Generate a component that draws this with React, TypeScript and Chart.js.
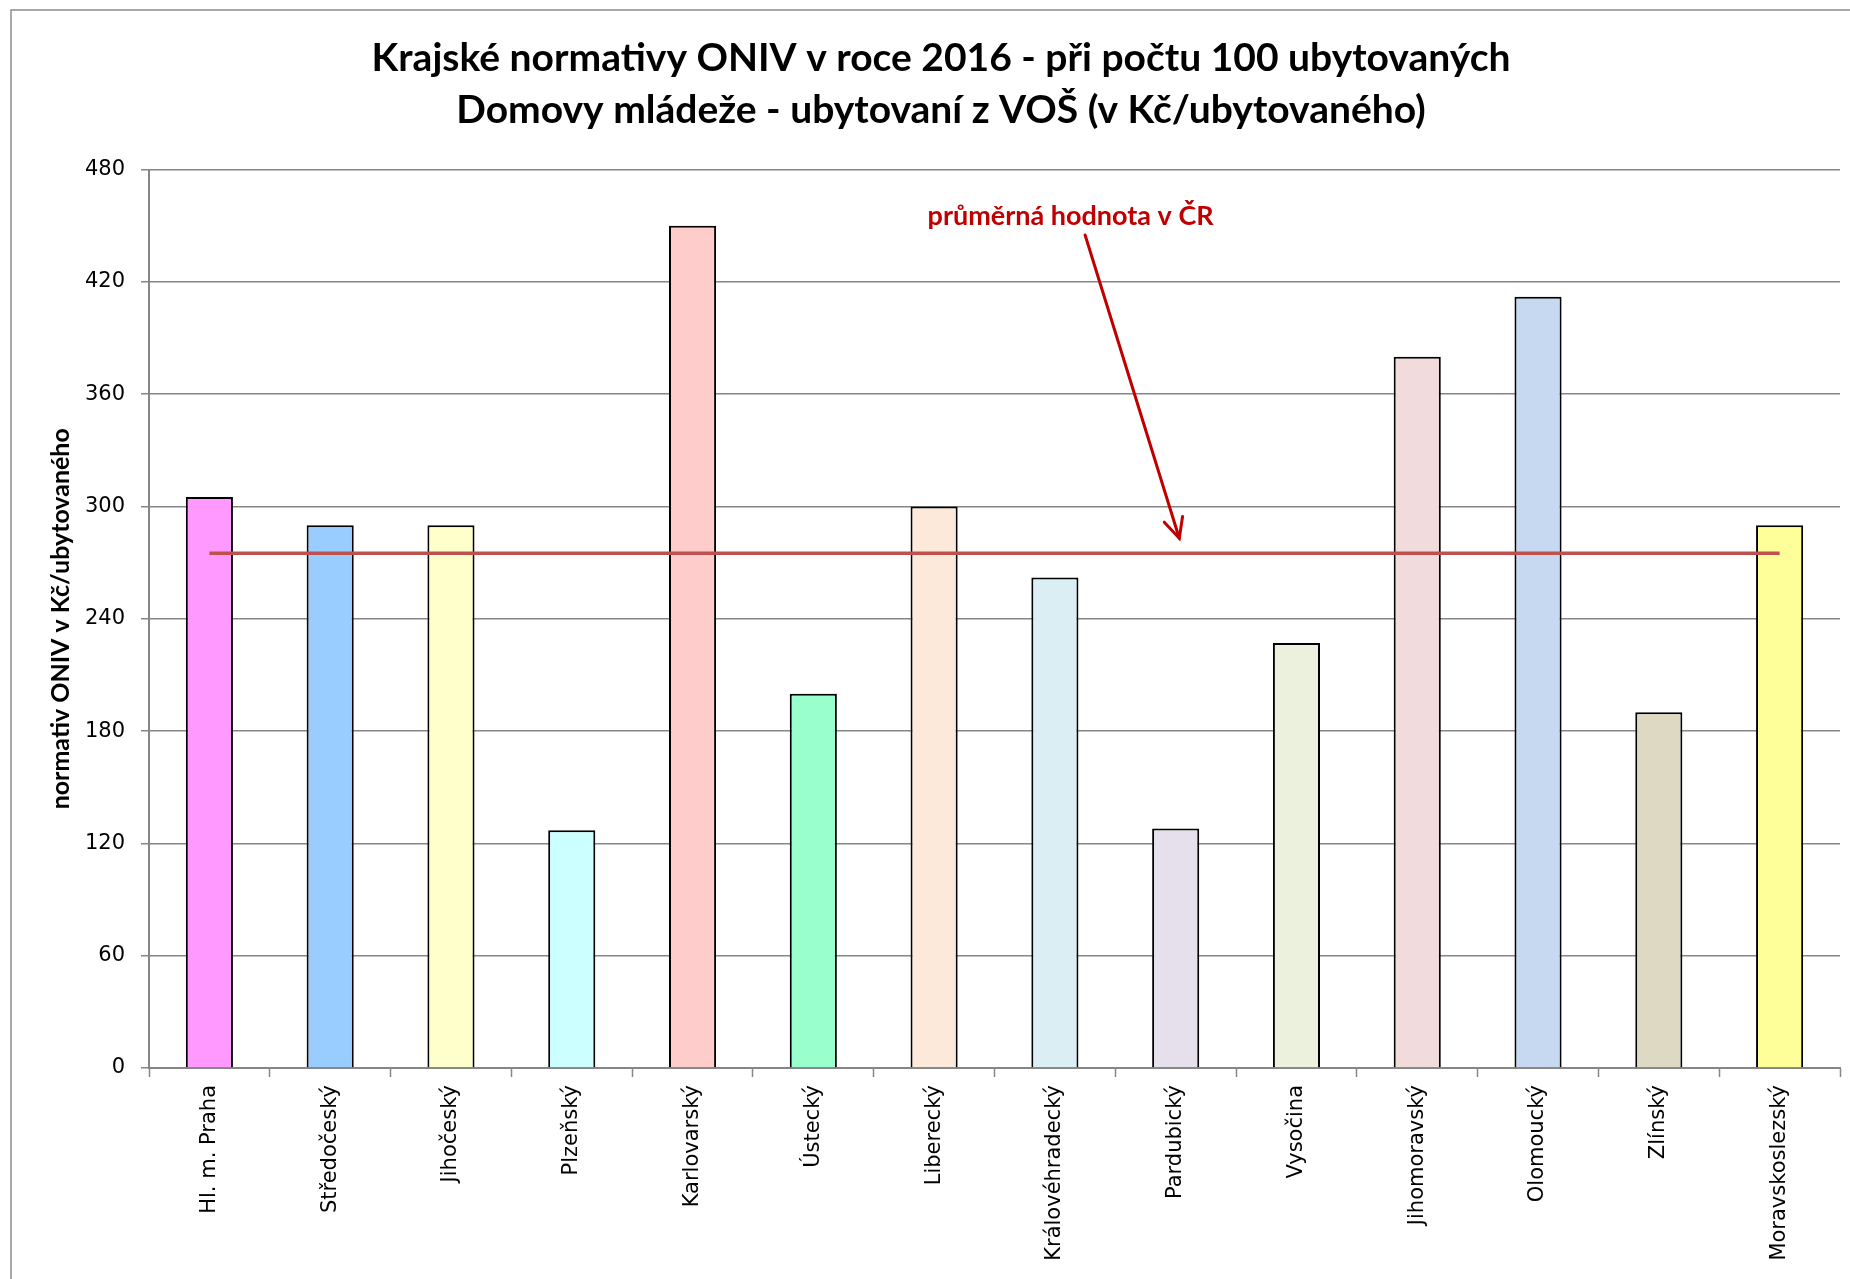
import React, { useEffect, useRef } from "react";
import { Chart, registerables } from "chart.js";

Chart.register(...registerables);

const categories = [
  "Hl. m. Praha",
  "Středočeský",
  "Jihočeský",
  "Plzeňský",
  "Karlovarský",
  "Ústecký",
  "Liberecký",
  "Královéhradecký",
  "Pardubický",
  "Vysočina",
  "Jihomoravský",
  "Olomoucký",
  "Zlínský",
  "Moravskoslezský",
];

const values = [305, 290, 290, 127, 450, 200, 300, 262, 128, 227, 380, 412, 190, 290];

const averageValues = [275, 275, 275, 275, 275, 275, 275, 275, 275, 275, 275, 275, 275, 275];

const barColors = [
  "#FF99FF",
  "#99CCFF",
  "#FFFFCC",
  "#CCFFFF",
  "#FFCCCC",
  "#99FFCC",
  "#FDE9D9",
  "#DBEEF3",
  "#E5E0EC",
  "#EBF1DD",
  "#F2DCDB",
  "#C6D9F0",
  "#DDD9C3",
  "#FFFF99",
];

const yMin = 0;
const yMax = 480;
const yStep = 60;

const titleLines = [
  "Krajské normativy ONIV v roce 2016 - při počtu 100 ubytovaných",
  "Domovy mládeže - ubytovaní z VOŠ (v Kč/ubytovaného)",
];
const yAxisTitle = "normativ ONIV v Kč/ubytovaného";
const annotationText = "průměrná hodnota v ČR";

// annotation anchors in data coordinates (category index, value)
const annotationTextPos = [7.13, 455];
const arrowStart = [7.25, 445];
const arrowEnd = [8.03, 283];

const W = 1850;
const H = 1279;

export default function App() {
  const ref = useRef<HTMLCanvasElement | null>(null);

  useEffect(() => {
    const canvas = ref.current;
    if (!canvas) return;

    const framePlugin = {
      id: "frame",
      beforeDraw(chart: any) {
        const ctx = chart.ctx;
        ctx.save();
        ctx.fillStyle = "#ffffff";
        ctx.fillRect(0, 0, chart.width, chart.height);
        ctx.strokeStyle = "#8c8c8c";
        ctx.lineWidth = 1.5;
        ctx.strokeRect(11, 10, chart.width + 20, chart.height + 20);
        ctx.restore();
      },
    };

    const annotationPlugin = {
      id: "avgAnnotation",
      afterDatasetsDraw(chart: any) {
        const ctx = chart.ctx;
        const xs = chart.scales.x;
        const ys = chart.scales.y;
        ctx.save();
        ctx.fillStyle = "#C00000";
        ctx.font = "bold 27px Lato";
        ctx.textAlign = "center";
        ctx.textBaseline = "middle";
        ctx.fillText(
          annotationText,
          xs.getPixelForValue(annotationTextPos[0]),
          ys.getPixelForValue(annotationTextPos[1])
        );
        const x1 = xs.getPixelForValue(arrowStart[0]);
        const y1 = ys.getPixelForValue(arrowStart[1]);
        const x2 = xs.getPixelForValue(arrowEnd[0]);
        const y2 = ys.getPixelForValue(arrowEnd[1]);
        ctx.strokeStyle = "#C00000";
        ctx.lineWidth = 3;
        ctx.lineCap = "round";
        ctx.beginPath();
        ctx.moveTo(x1, y1);
        ctx.lineTo(x2, y2);
        ctx.stroke();
        const ang = Math.atan2(y2 - y1, x2 - x1);
        const len = 22;
        const spread = 0.45;
        ctx.beginPath();
        ctx.moveTo(x2 - len * Math.cos(ang - spread), y2 - len * Math.sin(ang - spread));
        ctx.lineTo(x2, y2);
        ctx.lineTo(x2 - len * Math.cos(ang + spread), y2 - len * Math.sin(ang + spread));
        ctx.stroke();
        ctx.restore();
      },
    };

    const chart = new Chart(canvas, {
      type: "bar",
      data: {
        labels: categories,
        datasets: [
          {
            type: "line",
            label: "průměr",
            data: averageValues,
            borderColor: "#C0504D",
            borderWidth: 3.5,
            pointRadius: 0,
            fill: false,
            order: 0,
          } as any,
          {
            type: "bar",
            label: "normativ",
            data: values,
            backgroundColor: barColors,
            borderColor: "#000000",
            borderWidth: 2,
            borderSkipped: "bottom",
            categoryPercentage: 1,
            barPercentage: 0.39,
            order: 1,
          } as any,
        ],
      },
      options: {
        responsive: false,
        animation: false,
        devicePixelRatio: 1,
        layout: { padding: { left: 42, right: 10, top: 0, bottom: 0 } },
        plugins: {
          legend: { display: false },
          tooltip: { enabled: false },
          title: {
            display: true,
            text: titleLines,
            color: "#000000",
            font: { family: "Lato", weight: "bold", size: 39, lineHeight: 1.34 },
            padding: { top: 32, bottom: 33 },
          },
        },
        scales: {
          x: {
            type: "category",
            offset: true,
            grid: {
              display: true,
              offset: true,
              drawOnChartArea: false,
              drawTicks: true,
              tickLength: 9,
              tickColor: "#868686",
              tickWidth: 1.5,
            },
            border: { display: true, color: "#868686", width: 2 },
            ticks: {
              color: "#000000",
              font: { family: "DejaVu Sans", size: 21 },
              maxRotation: 90,
              minRotation: 90,
              autoSkip: false,
              padding: 8,
            },
            afterFit(scale: any) {
              scale.height = 211;
            },
          },
          y: {
            type: "linear",
            min: yMin,
            max: yMax,
            ticks: {
              stepSize: yStep,
              color: "#000000",
              font: { family: "DejaVu Sans", size: 21 },
              padding: 16,
            },
            grid: {
              color: "#868686",
              lineWidth: 1.5,
              drawTicks: true,
              tickLength: 8,
              tickColor: "#868686",
            },
            border: { display: true, color: "#868686", width: 2 },
            title: {
              display: true,
              text: yAxisTitle,
              color: "#000000",
              font: { family: "Lato", weight: "bold", size: 25, lineHeight: 1.2 },
              padding: { top: 4, bottom: 0 },
            },
            afterFit(scale: any) {
              scale.width = 107;
            },
          },
        },
      },
      plugins: [framePlugin, annotationPlugin],
    });

    return () => chart.destroy();
  }, []);

  return (
    <div style={{ position: "absolute", left: 0, top: 0, width: W, height: H, background: "#fff" }}>
      <canvas ref={ref} width={W} height={H} style={{ display: "block", width: W, height: H }} />
    </div>
  );
}
